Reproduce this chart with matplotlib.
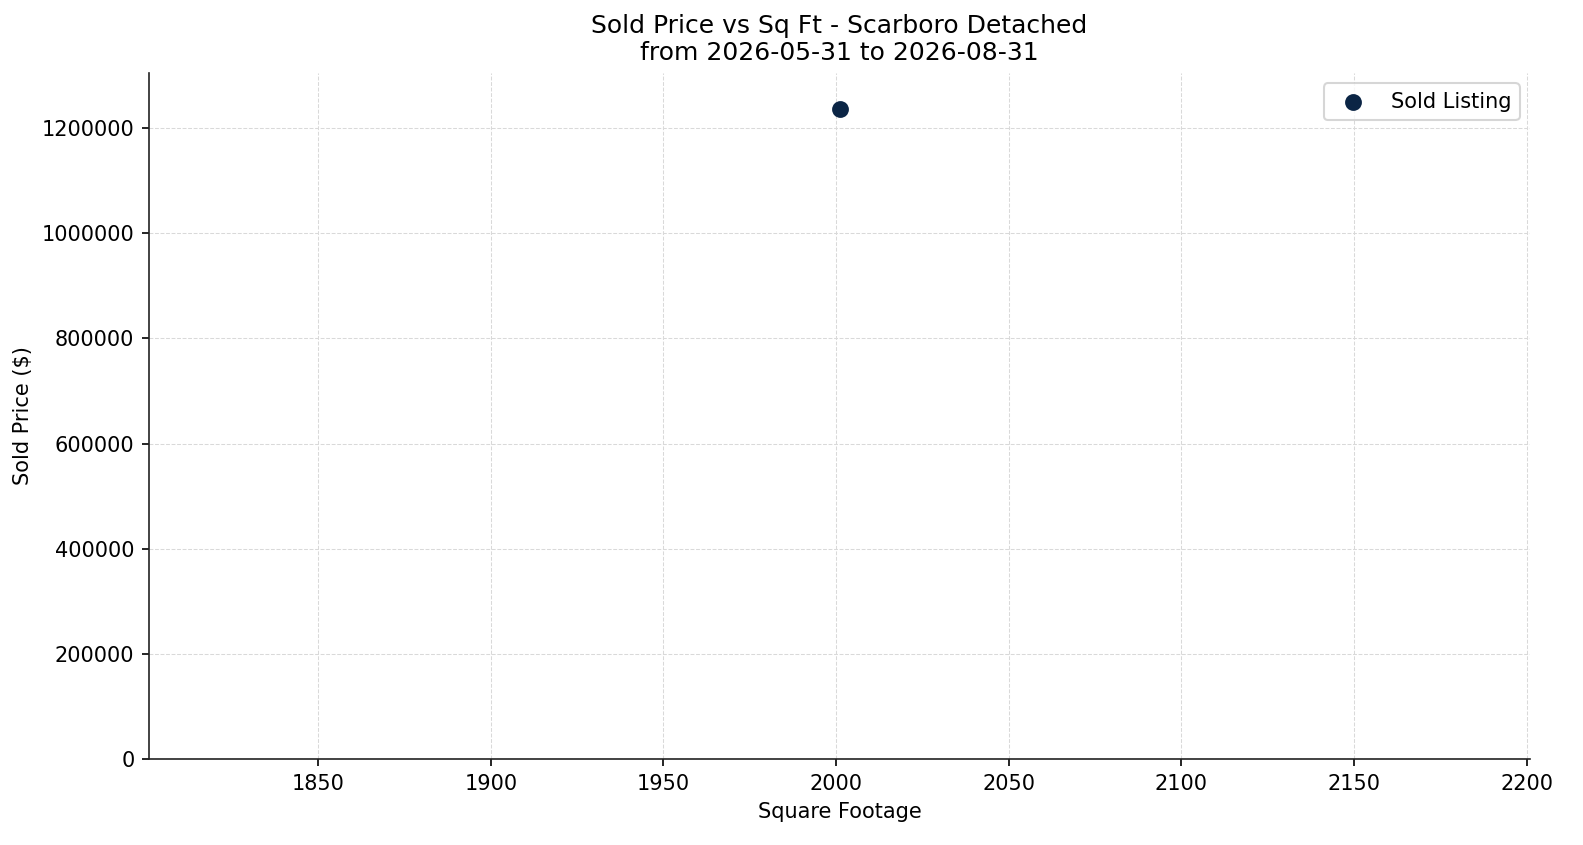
import matplotlib
matplotlib.use("Agg")
import matplotlib.pyplot as plt

################################################################
# Data

area = 'Scarboro'
house_type = 'Detached'
date_from = '2026-05-31'
date_to = '2026-08-31'

sqft = [2001]
sold_price = [1237000]

################################################################
# Plot

fig = plt.figure(figsize=(1583 / 150, 845 / 150), dpi=150)
ax = fig.add_axes([149 / 1583, 1 - 759 / 845, (1530 - 149) / 1583, (759 - 73) / 845])

ax.scatter(sqft, sold_price, s=50, color='#0b2545', label='Sold Listing', zorder=3)

ax.set_xlim(min(sqft) - 200, max(sqft) + 200)
ax.set_ylim(0, max(sold_price) * 1.055)
ax.ticklabel_format(style='plain', axis='y', useOffset=False)

ax.set_title('Sold Price vs Sq Ft - %s %s\nfrom %s to %s' % (area, house_type, date_from, date_to),
             fontsize=12)
ax.set_xlabel('Square Footage', fontsize=10)
ax.set_ylabel('Sold Price ($)', fontsize=10)
ax.tick_params(labelsize=10)

ax.grid(True, linestyle='--', linewidth=0.5, color='#d9d9d9')
ax.set_axisbelow(True)
for side in ['top', 'right']:
    ax.spines[side].set_visible(False)
for side in ['left', 'bottom']:
    ax.spines[side].set_color('#222222')

ax.legend(loc='upper right', fontsize=10)

fig.savefig('out.png', dpi=150)
